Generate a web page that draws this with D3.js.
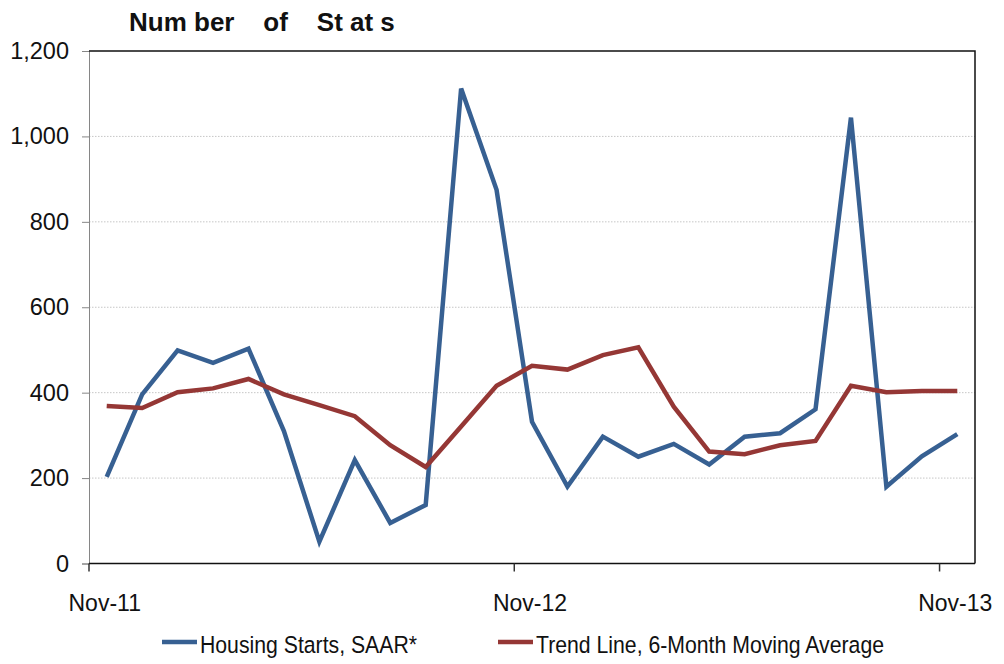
<!DOCTYPE html>
<html>
<head>
<meta charset="utf-8">
<script src="https://d3js.org/d3.v7.min.js"></script>
<style>
    body { margin: 0; background: white; }
    svg { display: block; font-family: Arial, "Liberation Sans", sans-serif; }
</style>
</head>
<body>
<script>
// Months on the category axis (Nov-11 .. Nov-13)
const months = [
    "Nov-11", "Dec-11", "Jan-12", "Feb-12", "Mar-12", "Apr-12", "May-12", "Jun-12",
    "Jul-12", "Aug-12", "Sep-12", "Oct-12", "Nov-12", "Dec-12", "Jan-13", "Feb-13",
    "Mar-13", "Apr-13", "May-13", "Jun-13", "Jul-13", "Aug-13", "Sep-13", "Oct-13", "Nov-13"
];

// Housing starts, SAAR*
const housingStarts = [
    203, 396, 499, 470, 503, 310, 51, 242, 95, 137, 1112, 875, 332,
    180, 297, 250, 280, 232, 297, 305, 361, 1044, 180, 251, 303
];

// Trend line, 6-month moving average
const trendLine = [
    369, 364, 401, 410, 432, 396, 371, 345, 277, 226, 321, 416, 463,
    454, 488, 506, 367, 262, 256, 277, 287, 416, 401, 404, 404
];

const yTicks = [0, 200, 400, 600, 800, 1000, 1200];
const xLabels = ["Nov-11", "Nov-12", "Nov-13"];

const width = 1004;
const height = 664;
const plot = { left: 89, right: 975, top: 51, bottom: 563.5 };

const svg = d3.select("body")
    .append("svg")
    .attr("width", width)
    .attr("height", height);

// Scales
const xScale = d3.scaleBand()
    .domain(months)
    .range([plot.left, plot.right])
    .padding(0);

const yScale = d3.scaleLinear()
    .domain([0, 1200])
    .range([plot.bottom, plot.top]);

const xCenter = m => xScale(m) + xScale.bandwidth() / 2;

// Dotted gridlines
svg.append("g")
    .selectAll("line")
    .data(yTicks.filter(d => d > 0 && d < 1200))
    .enter()
    .append("line")
    .attr("x1", plot.left)
    .attr("x2", plot.right)
    .attr("y1", d => yScale(d))
    .attr("y2", d => yScale(d))
    .attr("stroke", "#c6c6c6")
    .attr("stroke-width", 1)
    .attr("stroke-dasharray", "1.5,1.5");

// Y axis (gray line, small left ticks)
const yAxis = svg.append("g")
    .attr("transform", `translate(${plot.left},0)`)
    .call(d3.axisLeft(yScale).tickValues(yTicks).tickSize(7).tickPadding(13)
        .tickFormat(d3.format(",")));

yAxis.select(".domain").attr("stroke", "#868686");
yAxis.selectAll(".tick line").attr("stroke", "#868686");
yAxis.selectAll(".tick text")
    .attr("font-size", 23.5)
    .attr("fill", "#111");

// Top and right border of the plot area
svg.append("path")
    .attr("d", `M${plot.left},${plot.top}H${plot.right}V${plot.bottom}`)
    .attr("fill", "none")
    .attr("stroke", "#111")
    .attr("stroke-width", 1.5);

// X axis: ticks between categories every 12 months, labels at band centres
const xAxis = svg.append("g")
    .attr("transform", `translate(0,${plot.bottom})`);

xAxis.append("line")
    .attr("x1", plot.left)
    .attr("x2", plot.right)
    .attr("stroke", "#111")
    .attr("stroke-width", 1.5);

xAxis.selectAll(".xtick")
    .data(xLabels)
    .enter()
    .append("line")
    .attr("class", "xtick")
    .attr("x1", d => xScale(d))
    .attr("x2", d => xScale(d))
    .attr("y1", 0)
    .attr("y2", 8)
    .attr("stroke", "#333")
    .attr("stroke-width", 1.5);

xAxis.selectAll(".xlabel")
    .data(xLabels)
    .enter()
    .append("text")
    .attr("class", "xlabel")
    .attr("x", d => xCenter(d) - 2)
    .attr("y", 47)
    .attr("text-anchor", "middle")
    .attr("font-size", 23)
    .attr("fill", "#111")
    .text(d => d);

// Lines
const line = d3.line()
    .x((d, i) => xCenter(months[i]))
    .y(d => yScale(d));

svg.append("path")
    .datum(housingStarts)
    .attr("d", line)
    .attr("fill", "none")
    .attr("stroke", "#376092")
    .attr("stroke-width", 4.5);

svg.append("path")
    .datum(trendLine)
    .attr("d", line)
    .attr("fill", "none")
    .attr("stroke", "#953735")
    .attr("stroke-width", 4.5);

// Title (kept with its odd spacing)
svg.append("text")
    .attr("x", 129)
    .attr("y", 31)
    .attr("font-size", 26)
    .attr("font-weight", "bold")
    .attr("fill", "#111")
    .style("white-space", "pre")
    .text("Num ber    of    St at s");

// Legend
const legend = [
    { name: "Housing Starts, SAAR*", color: "#376092", x: 162, len: 217 },
    { name: "Trend Line, 6-Month Moving Average", color: "#953735", x: 498, len: 348 }
];

const lg = svg.append("g").selectAll("g")
    .data(legend)
    .enter()
    .append("g")
    .attr("transform", d => `translate(${d.x},642)`);

lg.append("line")
    .attr("x1", 0)
    .attr("x2", 35)
    .attr("stroke", d => d.color)
    .attr("stroke-width", 4.5);

lg.append("text")
    .attr("transform", "translate(38,11) scale(1,1.18)")
    .attr("font-size", 21)
    .attr("fill", "#111")
    .attr("textLength", d => d.len)
    .attr("lengthAdjust", "spacingAndGlyphs")
    .text(d => d.name);
</script>
</body>
</html>
